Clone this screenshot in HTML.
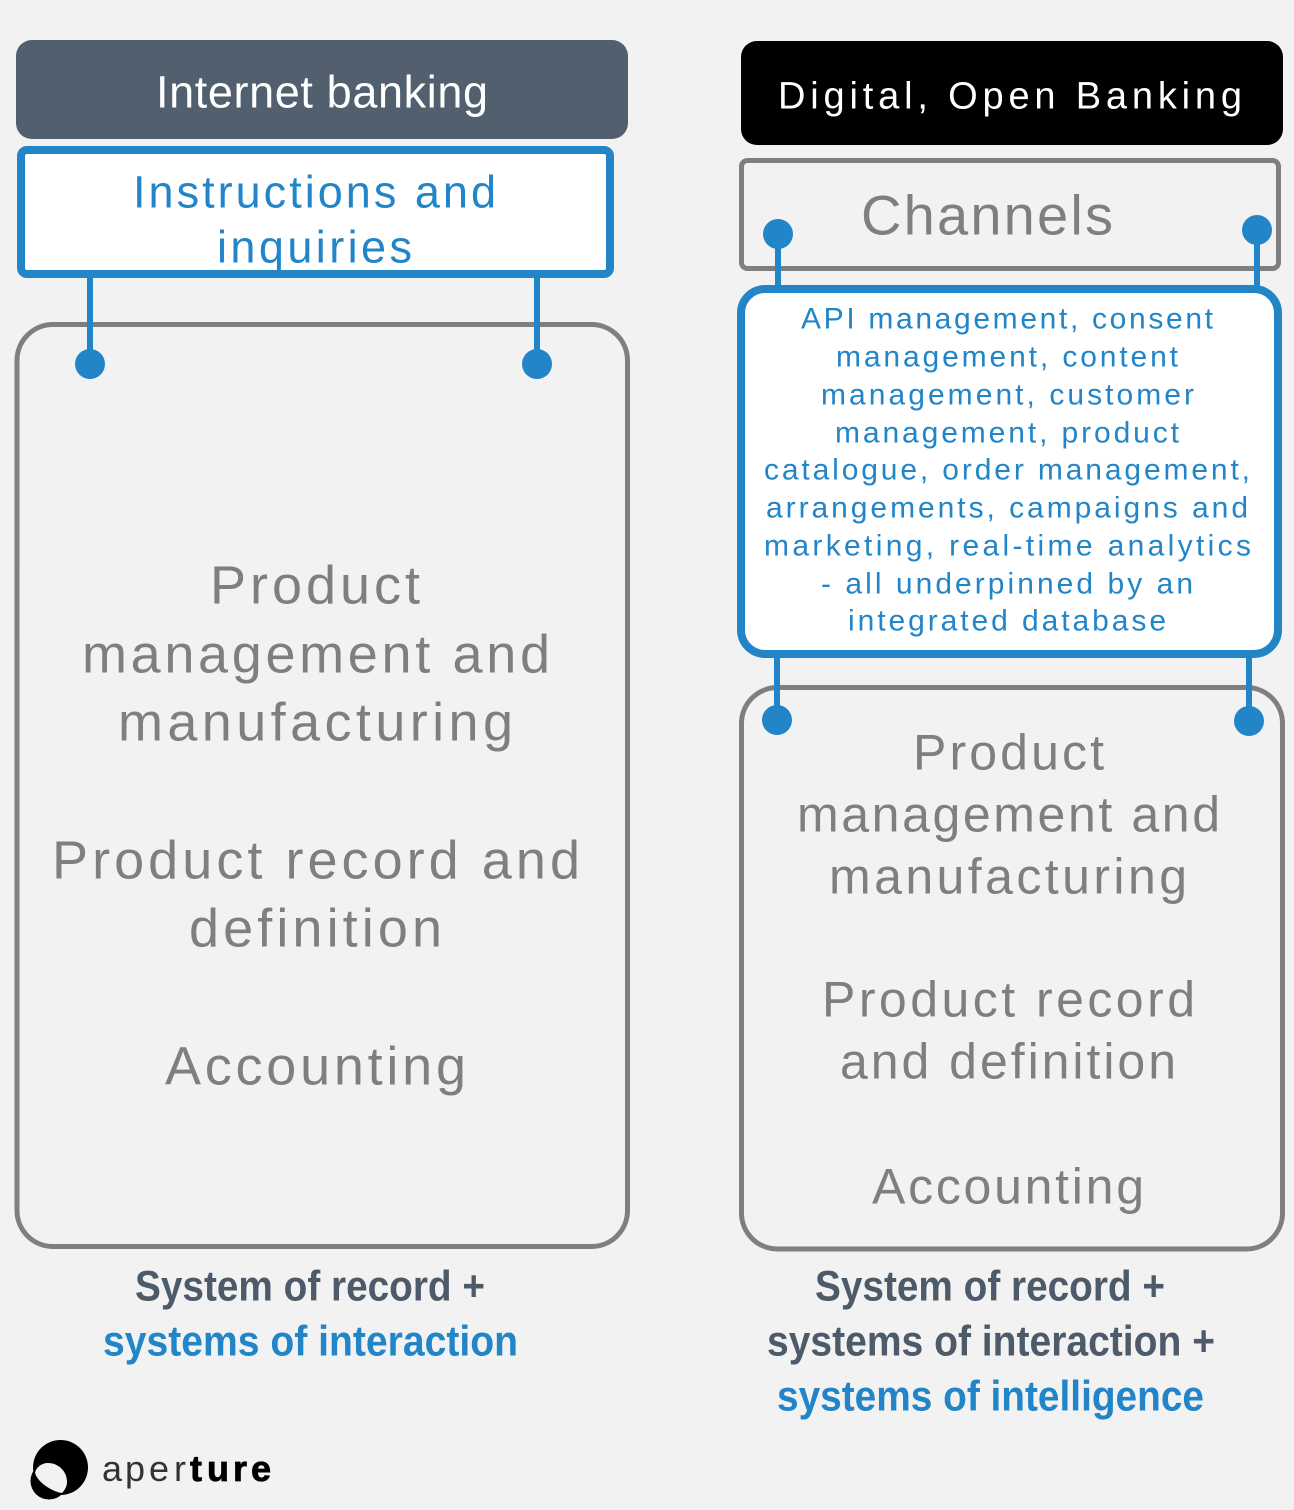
<!DOCTYPE html>
<html><head><meta charset="utf-8"><style>
html,body{margin:0;padding:0;background:#f2f2f2}
svg{display:block}
text{font-family:"Liberation Sans",sans-serif;text-anchor:start}
.t text{transform:translate(-1px,-0.5px)}
.t text.h{transform:translate(0,-0.5px)}
.g{fill:#7f7f7f;font-size:54px}
.g2{fill:#7f7f7f;font-size:50px}
.b{fill:#2185c8;font-size:30px}
.h{font-weight:bold;font-size:43px}
</style></head><body>
<svg width="1294" height="1510" viewBox="0 0 1294 1510" xmlns="http://www.w3.org/2000/svg">
<rect width="1294" height="1510" fill="#f2f2f2"/>
<!-- left column -->
<rect x="16" y="40" width="612" height="99" rx="16" fill="#525f6f"/>
<rect x="17" y="324.5" width="610.5" height="922" rx="36" fill="none" stroke="#7f7f7f" stroke-width="5"/>
<rect x="21" y="150" width="589" height="124" rx="6" fill="#fff" stroke="#2185c8" stroke-width="8"/>
<rect x="87" y="274" width="6" height="90" fill="#2185c8"/>
<rect x="534" y="274" width="6" height="90" fill="#2185c8"/>
<ellipse cx="90" cy="364" rx="15" ry="15" fill="#2185c8"/>
<ellipse cx="537" cy="364" rx="15" ry="15" fill="#2185c8"/>
<!-- right column -->
<rect x="741" y="41" width="542" height="104" rx="16" fill="#000"/>
<rect x="741.5" y="160.5" width="537" height="108" rx="6" fill="none" stroke="#7f7f7f" stroke-width="5"/>
<rect x="775" y="233" width="6" height="60" fill="#2185c8"/>
<rect x="1254" y="229" width="6" height="64" fill="#2185c8"/>
<circle cx="778" cy="234" r="15" fill="#2185c8"/>
<circle cx="1257" cy="230" r="15" fill="#2185c8"/>
<rect x="741.5" y="687.5" width="541" height="561.5" rx="36" fill="none" stroke="#7f7f7f" stroke-width="5"/>
<rect x="741" y="289" width="537" height="365" rx="24" fill="#fff" stroke="#2185c8" stroke-width="8"/>
<rect x="774" y="655" width="6" height="65" fill="#2185c8"/>
<rect x="1246" y="655" width="6" height="66" fill="#2185c8"/>
<circle cx="777" cy="720" r="15" fill="#2185c8"/>
<circle cx="1249" cy="721" r="15" fill="#2185c8"/>
<g class="t">
<text x="157" y="108" fill="#fff" font-size="45" textLength="332" lengthAdjust="spacing">Internet banking</text>
<text x="134" y="208" class="b" style="font-size:45px" textLength="363" lengthAdjust="spacing">Instructions and</text>
<text x="218" y="263" class="b" style="font-size:45px" textLength="195" lengthAdjust="spacing">inquiries</text>
<text x="211" y="604" class="g" textLength="210" lengthAdjust="spacing">Product</text>
<text x="83" y="673" class="g" textLength="468" lengthAdjust="spacing">management and</text>
<text x="119" y="741" class="g" textLength="395" lengthAdjust="spacing">manufacturing</text>
<text x="53" y="879" class="g" textLength="528" lengthAdjust="spacing">Product record and</text>
<text x="190" y="947" class="g" textLength="253" lengthAdjust="spacing">definition</text>
<text x="166" y="1085" class="g" textLength="301" lengthAdjust="spacing">Accounting</text>
<text x="135" y="1301" class="h" fill="#4d5a6a" textLength="350" lengthAdjust="spacingAndGlyphs">System of record +</text>
<text x="103" y="1356" class="h" fill="#2185c8" textLength="415" lengthAdjust="spacingAndGlyphs">systems of interaction</text>
<text x="779" y="109" fill="#fff" font-size="38" textLength="464" lengthAdjust="spacing">Digital, Open Banking</text>
<text x="862" y="235" fill="#7f7f7f" font-size="56" textLength="252" lengthAdjust="spacing">Channels</text>
<text x="802" y="329" class="b" textLength="412" lengthAdjust="spacing">API management, consent</text>
<text x="837" y="367" class="b" textLength="342" lengthAdjust="spacing">management, content</text>
<text x="822" y="405" class="b" textLength="373" lengthAdjust="spacing">management, customer</text>
<text x="836" y="443" class="b" textLength="344" lengthAdjust="spacing">management, product</text>
<text x="765" y="480" class="b" textLength="486" lengthAdjust="spacing">catalogue, order management,</text>
<text x="767" y="518" class="b" textLength="482" lengthAdjust="spacing">arrangements, campaigns and</text>
<text x="765" y="556" class="b" textLength="487" lengthAdjust="spacing">marketing, real-time analytics</text>
<text x="822" y="594" class="b" textLength="372" lengthAdjust="spacing">- all underpinned by an</text>
<text x="849" y="631" class="b" textLength="318" lengthAdjust="spacing">integrated database</text>
<text x="914" y="770" class="g2" textLength="191" lengthAdjust="spacing">Product</text>
<text x="798" y="832" class="g2" textLength="423" lengthAdjust="spacing">management and</text>
<text x="830" y="894" class="g2" textLength="358" lengthAdjust="spacing">manufacturing</text>
<text x="823" y="1017" class="g2" textLength="373" lengthAdjust="spacing">Product record</text>
<text x="841" y="1079" class="g2" textLength="336" lengthAdjust="spacing">and definition</text>
<text x="873" y="1204" class="g2" textLength="272" lengthAdjust="spacing">Accounting</text>
<text x="815" y="1301" class="h" fill="#4d5a6a" textLength="350" lengthAdjust="spacingAndGlyphs">System of record +</text>
<text x="767" y="1356" class="h" fill="#4d5a6a" textLength="448" lengthAdjust="spacingAndGlyphs">systems of interaction +</text>
<text x="777" y="1411" class="h" fill="#2185c8" textLength="427" lengthAdjust="spacingAndGlyphs">systems of intelligence</text>
</g>
<!-- logo -->
<circle cx="60.5" cy="1467.5" r="27.5" fill="#000"/>
<circle cx="49" cy="1481" r="18.5" fill="#000"/>
<path d="M35 1473 C36 1467 42 1463 48 1463 C58 1463 67 1471 67 1482 C67 1486 65 1490 62 1493 C53 1492 38 1483 35 1473Z" fill="#f2f2f2"/>
<text y="1481" font-size="36" fill="#333" x="102 125 149 174">aper</text>
<text y="1481" font-size="36" font-weight="bold" fill="#000" stroke="#000" stroke-width="0.8" x="190 207 233 251">ture</text>
</svg>
</body></html>
